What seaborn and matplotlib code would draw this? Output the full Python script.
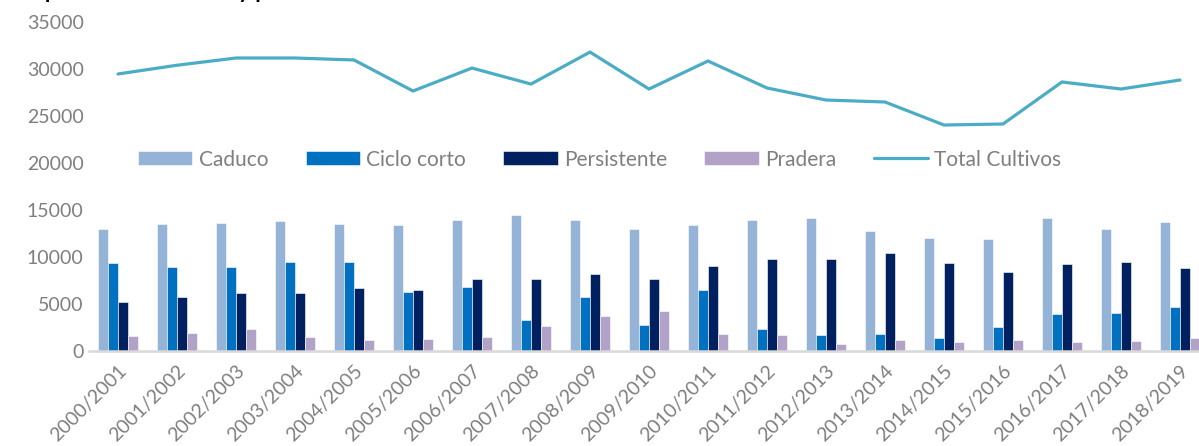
import numpy as np
import pandas as pd
import seaborn as sns
from matplotlib import pyplot as plt

seasons = ['2000/2001', '2001/2002', '2002/2003', '2003/2004', '2004/2005',
           '2005/2006', '2006/2007', '2007/2008', '2008/2009', '2009/2010',
           '2010/2011', '2011/2012', '2012/2013', '2013/2014', '2014/2015',
           '2015/2016', '2016/2017', '2017/2018', '2018/2019']

caduco = [13000, 13500, 13600, 13800, 13500, 13450, 13900, 14450, 13950, 13000,
          13400, 13950, 14150, 12750, 12050, 11900, 14150, 13000, 13700]
ciclo_corto = [9350, 8950, 8900, 9500, 9450, 6300, 6800, 3300, 5700, 2750,
               6500, 2350, 1700, 1800, 1400, 2550, 3900, 4050, 4700]
persistente = [5200, 5750, 6150, 6150, 6700, 6500, 7700, 7700, 8200, 7650,
               9000, 9750, 9800, 10400, 9350, 8400, 9250, 9500, 8800]
pradera = [1600, 1900, 2300, 1450, 1150, 1250, 1450, 2650, 3700, 4250,
           1850, 1700, 750, 1150, 950, 1150, 950, 1050, 1400]
total_cultivos = [29470, 30400, 31170, 31170, 30960, 27660, 30100, 28400, 31800, 27870,
                  30850, 27980, 26700, 26490, 24040, 24150, 28620, 27870, 28830]

series_names = ['Caduco', 'Ciclo corto', 'Persistente', 'Pradera']
colors = ['#95B3D7', '#0070C0', '#002060', '#B3A2C7']
line_color = '#4BACC6'
grey = '#7F7F7F'

bars = pd.DataFrame({'Temporada': seasons, 'Caduco': caduco, 'Ciclo corto': ciclo_corto,
                     'Persistente': persistente, 'Pradera': pradera})
bars_long = bars.melt(id_vars='Temporada', var_name='Tipo', value_name='Superficie')
totals = pd.DataFrame({'pos': np.arange(len(seasons)), 'Total Cultivos': total_cultivos})

sns.set_style('white')
plt.rcParams['font.family'] = ['Lato', 'DejaVu Sans']

fig = plt.figure(figsize=(11.99, 4.46), dpi=100)
ax = fig.add_axes([88.5 / 1199, 95 / 446, 1121 / 1199, 329 / 446])

sns.barplot(data=bars_long, x='Temporada', y='Superficie', hue='Tipo',
            hue_order=series_names, palette=colors, width=0.68,
            saturation=1, edgecolor='white', linewidth=0.4, ax=ax)
sns.lineplot(data=totals, x='pos', y='Total Cultivos', color=line_color,
             linewidth=2.3, label='Total Cultivos', ax=ax,
             solid_capstyle='round', solid_joinstyle='miter')

ax.set_xlim(-0.5, len(seasons) - 0.5)
ax.set_ylim(0, 35000)
ax.set_yticks(range(0, 35001, 5000))
ax.set_xticks(range(len(seasons)))
ax.set_xticklabels(seasons, rotation=45, ha='right', rotation_mode='anchor')
ax.tick_params(axis='both', colors=grey, labelsize=14, length=0)
ax.tick_params(axis='x', pad=8)
ax.set_xlabel('')
ax.set_ylabel('')

for side in ['top', 'right', 'left']:
    ax.spines[side].set_visible(False)
ax.spines['bottom'].set_color('#D9D9D9')
ax.spines['bottom'].set_linewidth(1.8)

handles, labels = ax.get_legend_handles_labels()
ax.legend(handles, labels, loc='center', bbox_to_anchor=(0.456, 0.582), ncol=5,
          frameon=False, fontsize=15, labelcolor=grey, handlelength=2.6,
          handleheight=0.65, handletextpad=0.3, columnspacing=1.8)

fig.text(0.017, 1.0045, 'Superficie de cultivos y praderas', fontsize=16,
         fontweight='bold', color='black', va='baseline', ha='left')

fig.savefig('out.png', dpi=100)
